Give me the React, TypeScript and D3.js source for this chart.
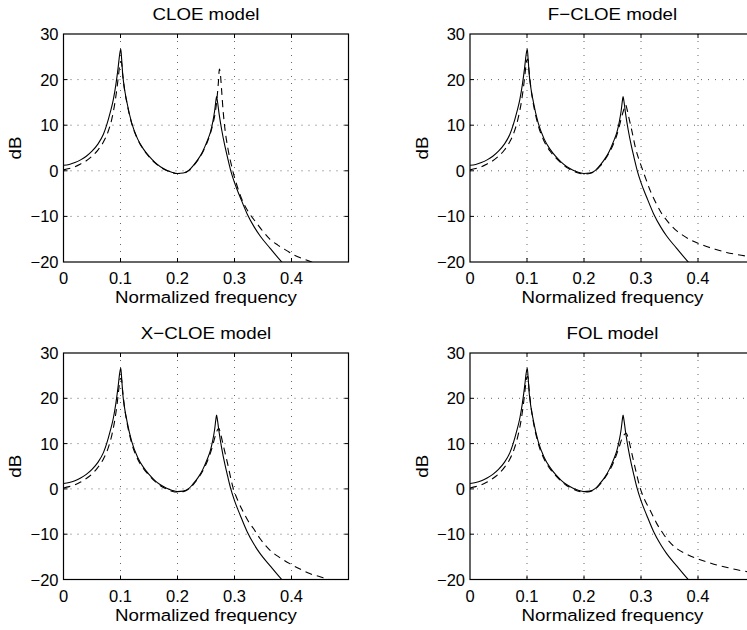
import React from "react";
import * as d3 from "d3";

const xTicks = [0, 0.1, 0.2, 0.3, 0.4];
const yTicks = [-20, -10, 0, 10, 20, 30];
const gridX = [0.1, 0.2, 0.3, 0.4];
const gridY = [-10, 0, 10, 20];
const titles = ["CLOE model", "F\u2212CLOE model", "X\u2212CLOE model", "FOL model"];
const xLabel = "Normalized frequency";
const yLabel = "dB";

// true spectrum (solid)
const trueSpectrum: [number, number][] = [
  [0, 1.2], [0.01, 1.4], [0.02, 1.8], [0.03, 2.4], [0.04, 3.2], [0.05, 4.3], [0.06, 5.8],
  [0.07, 8.0], [0.0757, 10.0], [0.082, 12.8], [0.0874, 15.6], [0.092, 19.0], [0.096, 22.8],
  [0.0985, 25.5], [0.1005, 26.7], [0.102, 24.5], [0.104, 21.0], [0.107, 18.0], [0.111, 15.2],
  [0.1196, 10.5], [0.13, 7.0], [0.14, 4.8], [0.15, 3.2], [0.16, 1.9], [0.17, 0.9], [0.18, 0.2],
  [0.19, -0.3], [0.2, -0.6], [0.21, -0.5], [0.22, 0.1], [0.228, 1.2], [0.236, 2.5], [0.244, 4.2],
  [0.252, 6.5], [0.258, 8.6], [0.262, 10.8], [0.265, 13.0], [0.2675, 15.5], [0.2685, 16.3],
  [0.27, 15.3], [0.273, 12.5], [0.2775, 9.0], [0.283, 5.5], [0.288, 2.8], [0.2935, 0.0],
  [0.3, -2.6], [0.31, -5.8], [0.322, -9.4], [0.335, -12.4], [0.345, -14.3], [0.3626, -17.0],
  [0.38, -19.6], [0.39, -21.0],
];

const cloeEstimate: [number, number][] = [
  [0, 0.2], [0.01, 0.5], [0.02, 0.9], [0.03, 1.5], [0.04, 2.2], [0.05, 3.2], [0.06, 4.5],
  [0.07, 6.3], [0.078, 8.5], [0.085, 11.5], [0.09, 14.8], [0.094, 18.3], [0.097, 21.5],
  [0.0995, 23.8], [0.1015, 24.0], [0.1035, 21.5], [0.107, 17.8], [0.111, 15.0], [0.1196, 10.4],
  [0.13, 6.9], [0.14, 4.7], [0.15, 3.1], [0.16, 1.8], [0.17, 0.8], [0.18, 0.1], [0.19, -0.4],
  [0.2, -0.6], [0.21, -0.5], [0.22, 0.1], [0.228, 1.1], [0.236, 2.4], [0.244, 4.0], [0.252, 6.2],
  [0.258, 8.3], [0.262, 10.2], [0.266, 12.6], [0.269, 15.5], [0.2715, 19.0], [0.2735, 22.3],
  [0.275, 21.5], [0.2775, 17.5], [0.28, 13.2], [0.2834, 9.0], [0.288, 5.2], [0.295, 1.0],
  [0.305, -3.5], [0.3155, -7.0], [0.327, -9.5], [0.339, -11.5], [0.35, -13.3], [0.362, -15.0],
  [0.376, -16.3], [0.3916, -17.5], [0.405, -18.5], [0.42, -19.3], [0.44, -20.2], [0.46, -21.0],
];

const fcloeEstimate: [number, number][] = [
  [0, 0.2], [0.01, 0.5], [0.02, 0.9], [0.03, 1.5], [0.04, 2.2], [0.05, 3.2], [0.06, 4.5],
  [0.07, 6.4], [0.078, 8.7], [0.085, 11.8], [0.09, 15.0], [0.094, 18.5], [0.097, 21.8],
  [0.0995, 24.2], [0.1015, 24.5], [0.1035, 22.0], [0.107, 18.0], [0.111, 14.8], [0.1196, 10.0],
  [0.13, 6.5], [0.14, 4.4], [0.15, 2.9], [0.16, 1.7], [0.17, 0.7], [0.18, 0.0], [0.19, -0.5],
  [0.2, -0.7], [0.21, -0.6], [0.22, 0.0], [0.228, 1.0], [0.236, 2.3], [0.244, 3.9], [0.252, 6.0],
  [0.258, 8.0], [0.262, 9.8], [0.266, 11.8], [0.27, 13.5], [0.273, 14.5], [0.2755, 13.5],
  [0.279, 11.5], [0.2836, 9.0], [0.29, 5.2], [0.296, 2.6], [0.3, 1.2], [0.308, -1.6],
  [0.316, -4.3], [0.326, -7.0], [0.336, -9.3], [0.348, -11.3], [0.36, -12.9], [0.373, -14.1],
  [0.386, -15.1], [0.4, -15.9], [0.415, -16.6], [0.43, -17.2], [0.45, -17.9], [0.47, -18.4],
  [0.5, -19.0],
];

const xcloeEstimate: [number, number][] = [
  [0, 0.2], [0.01, 0.5], [0.02, 0.9], [0.03, 1.5], [0.04, 2.3], [0.05, 3.3], [0.06, 4.7],
  [0.07, 6.6], [0.078, 8.9], [0.085, 12.0], [0.09, 15.2], [0.094, 18.7], [0.097, 22.0],
  [0.0995, 24.3], [0.1015, 24.4], [0.1035, 22.0], [0.107, 18.0], [0.111, 14.9], [0.1196, 10.1],
  [0.13, 6.6], [0.14, 4.5], [0.15, 3.0], [0.16, 1.7], [0.17, 0.7], [0.18, 0.0], [0.19, -0.5],
  [0.2, -0.7], [0.21, -0.6], [0.22, 0.0], [0.228, 1.0], [0.236, 2.3], [0.244, 3.9], [0.252, 6.0],
  [0.258, 8.0], [0.262, 9.7], [0.266, 11.6], [0.27, 13.0], [0.2725, 13.4], [0.2755, 12.2],
  [0.28, 9.8], [0.288, 5.5], [0.298, 0.0], [0.306, -2.6], [0.315, -5.0], [0.324, -7.1],
  [0.333, -8.7], [0.345, -11.0], [0.362, -13.5], [0.38, -15.2], [0.397, -16.5], [0.415, -17.7],
  [0.432, -18.7], [0.45, -19.4], [0.465, -20.0], [0.48, -20.5],
];

const folEstimate: [number, number][] = [
  [0, 0.2], [0.01, 0.5], [0.02, 0.9], [0.03, 1.5], [0.04, 2.3], [0.05, 3.3], [0.06, 4.7],
  [0.07, 6.6], [0.078, 9.0], [0.085, 12.2], [0.09, 15.4], [0.094, 19.0], [0.097, 22.3],
  [0.0995, 24.6], [0.1015, 24.8], [0.1035, 22.2], [0.107, 18.2], [0.111, 14.9], [0.1196, 10.1],
  [0.13, 6.6], [0.14, 4.5], [0.15, 3.0], [0.16, 1.7], [0.17, 0.7], [0.18, 0.0], [0.19, -0.5],
  [0.2, -0.7], [0.21, -0.6], [0.22, 0.0], [0.228, 1.0], [0.236, 2.3], [0.244, 3.9], [0.252, 5.9],
  [0.258, 7.9], [0.262, 9.4], [0.266, 10.9], [0.27, 11.9], [0.274, 12.3], [0.278, 11.0],
  [0.284, 7.8], [0.29, 4.5], [0.298, 0.4], [0.306, -2.3], [0.316, -4.7], [0.327, -7.5],
  [0.339, -9.9], [0.35, -11.7], [0.363, -13.2], [0.38, -14.4], [0.398, -15.4], [0.415, -16.1],
  [0.433, -16.8], [0.453, -17.4], [0.474, -18.0], [0.5, -18.5],
];

const estimates = [cloeEstimate, fcloeEstimate, xcloeEstimate, folEstimate];

const W = 747;
const H = 630;
const FONT = "'Liberation Sans', Arial, Helvetica, sans-serif";

const panels = [
  { x0: 63.5, y0: 34, w: 285, h: 228 },
  { x0: 470, y0: 34, w: 285, h: 228 },
  { x0: 63.5, y0: 353, w: 285, h: 226.5 },
  { x0: 470, y0: 353, w: 285, h: 226.5 },
];

function Panel({ idx }: { idx: number }) {
  const p = panels[idx];
  const x = d3.scaleLinear().domain([0, 0.5]).range([p.x0, p.x0 + p.w]);
  const y = d3.scaleLinear().domain([-20, 30]).range([p.y0 + p.h, p.y0]);
  const line = d3
    .line<[number, number]>()
    .x((d) => x(d[0]))
    .y((d) => y(d[1]))
    .curve(d3.curveMonotoneX);
  const clipId = `clip${idx}`;
  const cx = p.x0 + p.w / 2;
  const cy = p.y0 + p.h / 2;
  const tickLen = 4;
  return (
    <g>
      <defs>
        <clipPath id={clipId}>
          <rect x={p.x0} y={p.y0} width={p.w} height={p.h} />
        </clipPath>
      </defs>
      {gridX.map((t) => (
        <line key={"gx" + t} x1={x(t)} x2={x(t)} y1={p.y0} y2={p.y0 + p.h}
          stroke="#666" strokeWidth={1} strokeDasharray="1 6" />
      ))}
      {gridY.map((t) => (
        <line key={"gy" + t} x1={p.x0} x2={p.x0 + p.w} y1={y(t)} y2={y(t)}
          stroke="#666" strokeWidth={1} strokeDasharray="1 6" />
      ))}
      {xTicks.slice(1).map((t) => (
        <g key={"tx" + t}>
          <line x1={x(t)} x2={x(t)} y1={p.y0 + p.h} y2={p.y0 + p.h - tickLen} stroke="#000" />
          <line x1={x(t)} x2={x(t)} y1={p.y0} y2={p.y0 + tickLen} stroke="#000" />
        </g>
      ))}
      {yTicks.slice(1, -1).map((t) => (
        <g key={"ty" + t}>
          <line x1={p.x0} x2={p.x0 + tickLen} y1={y(t)} y2={y(t)} stroke="#000" />
          <line x1={p.x0 + p.w} x2={p.x0 + p.w - tickLen} y1={y(t)} y2={y(t)} stroke="#000" />
        </g>
      ))}
      <g clipPath={`url(#${clipId})`}>
        <path d={line(trueSpectrum) || ""} fill="none" stroke="#000" strokeWidth={1.1} />
        <path d={line(estimates[idx]) || ""} fill="none" stroke="#000" strokeWidth={1.1}
          strokeDasharray="7 5" />
      </g>
      <rect x={p.x0} y={p.y0} width={p.w} height={p.h} fill="none" stroke="#000" strokeWidth={1.2} />
      {xTicks.map((t) => (
        <text key={"lx" + t} x={x(t)} y={p.y0 + p.h + 22} textAnchor="middle"
          fontSize={16.5} fontFamily={FONT}>{t === 0 ? "0" : d3.format(".1f")(t)}</text>
      ))}
      {yTicks.map((t) => (
        <text key={"ly" + t} x={p.x0 - 5} y={y(t) + 6} textAnchor="end"
          fontSize={16.5} fontFamily={FONT}>{d3.format("d")(t)}</text>
      ))}
      <text transform={`translate(${cx},${p.y0 - 14.5}) scale(1.1,1)`} textAnchor="middle"
        fontSize={17} fontFamily={FONT}>{titles[idx]}</text>
      <text transform={`translate(${cx},${p.y0 + p.h + 41}) scale(1.1,1)`} textAnchor="middle"
        fontSize={17} fontFamily={FONT}>{xLabel}</text>
      <text transform={`translate(${p.x0 - 42.5},${cy}) rotate(-90) scale(1.1,1)`} textAnchor="middle"
        fontSize={17} fontFamily={FONT}>{yLabel}</text>
    </g>
  );
}

export default function App() {
  return (
    <div style={{ position: "absolute", left: 0, top: 0 }}>
      <svg width={W} height={H} style={{ display: "block", background: "#fff" }}>
        {panels.map((_, i) => (
          <Panel key={i} idx={i} />
        ))}
      </svg>
    </div>
  );
}
